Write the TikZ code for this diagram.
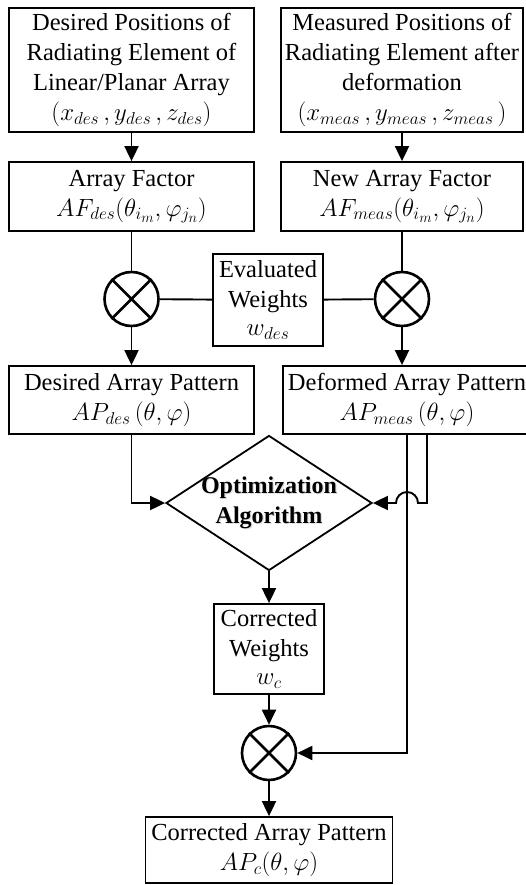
\documentclass[tikz,border=0pt]{standalone}
\usepackage{fontspec}
\setmainfont{Liberation Serif}
\DeclareMathSizes{24.5}{24.5}{18.5}{14}
\usetikzlibrary{arrows.meta,shapes.geometric}
\begin{document}
\begin{tikzpicture}[x=1pt,y=-1pt,
  box/.style={draw, line width=1.8pt, align=center, inner sep=0pt, font=\fontsize{24.5}{30}\selectfont},
  mult/.style={draw, circle, line width=2.6pt, minimum size=54pt, inner sep=0pt},
  conn/.style={line width=1.9pt},
  arr/.style={conn, -{Triangle[length=15pt,width=14pt]}},
  opttext/.style={font=\bfseries\fontsize{24}{30}\selectfont, align=center, inner sep=0pt}]
\useasboundingbox (0,0) rectangle (526,885);
\clip (0,0) rectangle (526,885);
% top row
\node[box, minimum width=245pt, minimum height=124pt] (b1) at (131.5,70)
  {Desired Positions of\\Radiating Element of\\Linear/Planar Array\\$(x_{des}\,, y_{des}\,, z_{des})$};
\node[box, minimum width=242pt, minimum height=124pt] (b2) at (402,70)
  {Measured Positions of\\Radiating Element after\\deformation\\$(x_{meas}\,, y_{meas}\,, z_{meas}\,)$};
% array factors
\node[box, minimum width=245pt, minimum height=69pt] (b3) at (131.5,196.5)
  {Array Factor\\$AF_{des}\big(\theta_{i_m}, \varphi_{j_n}\big)$};
\node[box, minimum width=242pt, minimum height=69pt] (b4) at (402,196.5)
  {New Array Factor\\$AF_{meas}\big(\theta_{i_m}, \varphi_{j_n}\big)$};
% multipliers
\node[mult] (m1) at (131.5,299) {};
\node[mult] (m2) at (402,299) {};
\draw[line width=2.6pt] (m1.north east) -- (m1.south west) (m1.north west) -- (m1.south east);
\draw[line width=2.6pt] (m2.north east) -- (m2.south west) (m2.north west) -- (m2.south east);
\node[box, minimum width=110pt, minimum height=92pt] (ev) at (268,300)
  {Evaluated\\Weights\\[-2pt]$w_{des}$};
% patterns
\node[box, minimum width=245pt, minimum height=68pt] (b5) at (131.5,400)
  {Desired Array Pattern\\$AP_{des}\,(\theta, \varphi)$};
\node[box, minimum width=248pt, minimum height=68pt] (b6) at (407,400)
  {Deformed Array Pattern\\$AP_{meas}\,(\theta, \varphi)$};
% optimization
\node[diamond, draw, line width=1.8pt, minimum width=206pt, minimum height=135pt, inner sep=0pt] (opt) at (269,503) {};
\node[opttext, text=black!12] (opts) at (270.2,504.2) {Optimization\\Algorithm};
\node[opttext] (optt) at (269,503) {Optimization\\Algorithm};
% corrected weights
\node[box, minimum width=110pt, minimum height=90pt] (wc) at (269,649)
  {Corrected\\Weights\\[-2pt]$w_c$};
\node[mult] (m3) at (269,753) {};
\draw[line width=2.6pt] (m3.north east) -- (m3.south west) (m3.north west) -- (m3.south east);
\node[box, minimum width=247pt, minimum height=66pt] (fin) at (269,850)
  {Corrected Array Pattern\\$AP_c(\theta, \varphi)$};
% helper coordinates
\coordinate (ra) at (427,0);
\coordinate (rb) at (407,0);
% connectors
\draw[arr] (b1) -- (b3);
\draw[arr] (b2) -- (b4);
\draw[conn] (b3) -- (m1);
\draw[conn] (b4) -- (m2);
\draw[conn] (m1) -- (ev);
\draw[conn] (ev) -- (m2);
\draw[arr] (m1) -- (b5.north -| m1);
\draw[arr] (m2) -- (b6.north -| m2);
\draw[arr] (b5.south) |- (opt.west);
\draw[arr] (b6.south -| rb) |- (m3.east);
\draw[arr] (b6.south -| ra) -- (ra |- opt.east) -- ([xshift=11pt]rb |- opt.east)
  arc[start angle=0, end angle=180, radius=11pt] -- (opt.east);
\draw[arr] (opt.south) -- (wc);
\draw[arr] (wc) -- (m3);
\draw[arr] (m3) -- (fin);
\end{tikzpicture}
\end{document}
